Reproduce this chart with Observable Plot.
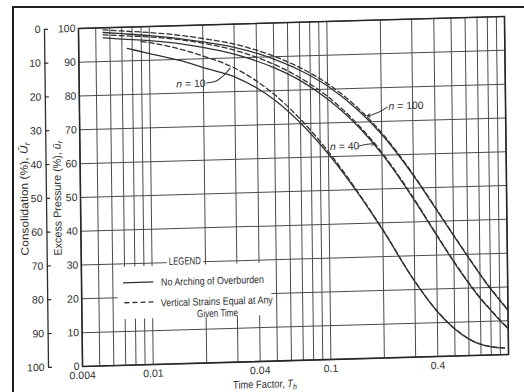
<!DOCTYPE html>
<html><head><meta charset="utf-8">
<script src="https://cdn.jsdelivr.net/npm/d3@7"></script>
<script src="https://cdn.jsdelivr.net/npm/@observablehq/plot@0.6"></script>
<style>
html,body{margin:0;padding:0;background:#fff;}
#wrap{position:relative;width:524px;height:392px;overflow:hidden;background:#fff;}
#border{position:absolute;left:12px;top:6px;width:530px;height:420px;border-top:2px solid #1e1e1e;border-left:2px solid #1e1e1e;}
#chart{position:absolute;left:0;top:0;}
</style></head><body>
<div id="wrap"><div id="border"></div><div id="chart"></div></div>
<script>
// ---- data (time factor T, excess pressure %) ----
const T = [0.0055, 0.007, 0.01, 0.015, 0.02, 0.03, 0.04, 0.05, 0.07, 0.1, 0.15, 0.2, 0.3, 0.4, 0.5, 0.6, 0.7, 0.8, 0.9, 1.0];
const n100Dashed = [99.4, 98.9, 98.2, 97.1, 96.0, 94.1, 92.1, 90.2, 86.6, 81.6, 73.8, 66.6, 54.0, 43.8, 35.8, 29.4, 24.1, 19.8, 16.3, 13.2];
const n100Solid  = [98.6, 98.1, 97.3, 96.1, 95.0, 93.1, 91.2, 89.3, 85.8, 80.9, 73.2, 66.2, 53.7, 43.6, 35.6, 29.2, 23.9, 19.6, 16.1, 13.0];
const n40Dashed  = [97.9, 97.5, 96.9, 95.8, 94.6, 92.3, 90.0, 87.8, 83.6, 77.8, 68.8, 60.8, 47.0, 36.2, 28.0, 21.8, 17.0, 13.4, 10.3, 7.8];
const n40Solid   = [97.0, 96.5, 95.8, 94.6, 93.4, 91.1, 88.9, 86.8, 82.8, 77.0, 68.3, 60.4, 46.7, 36.0, 27.8, 21.6, 16.8, 13.2, 10.1, 7.6];
const T10Dashed  = [0.009, 0.01, 0.015, 0.02, 0.03, 0.04, 0.05, 0.07, 0.1, 0.15, 0.2, 0.3, 0.4, 0.5, 0.6, 0.7, 0.8, 0.95];
const n10Dashed  = [95.6, 95.2, 93.0, 90.8, 87.0, 82.9, 78.9, 71.3, 61.5, 48.3, 38.0, 22.5, 13.4, 8.1, 5.0, 3.3, 2.5, 2.0];
const T10Solid   = [0.0075, 0.01, 0.015, 0.02, 0.03, 0.04, 0.05, 0.07, 0.1, 0.15, 0.2, 0.3, 0.4, 0.5, 0.6, 0.7, 0.8, 0.95];
const n10Solid   = [93.7, 92.0, 89.6, 87.4, 84.4, 80.9, 77.3, 70.2, 60.8, 48.0, 37.8, 22.4, 13.3, 8.0, 4.9, 3.2, 2.4, 1.9];

const yTicks = [0, 10, 20, 30, 40, 50, 60, 70, 80, 90, 100];
const xGrid = [0.004, 0.005, 0.006, 0.007, 0.008, 0.009, 0.01, 0.02, 0.03, 0.04, 0.05, 0.06, 0.07, 0.08, 0.09, 0.1, 0.2, 0.3, 0.4, 0.5, 0.6, 0.7, 0.8, 0.9, 1.0];
const xLabels = [0.004, 0.01, 0.04, 0.1, 0.4];

const xTitle = "Time Factor, T_h";
const yTitleOuter = "Consolidation (%), Ū_r";
const yTitleInner = "Excess Pressure (%), ū_r";
const legendTitle = "LEGEND";
const legendSolid = "No Arching of Overburden";
const legendDashed1 = "Vertical Strains Equal at Any";
const legendDashed2 = "Given Time";

// annotation anchors (data units)
const nLabels = [
  {t: 0.0206, p: 82.7, label: "n = 10", anchor: "end"},
  {t: 0.219, p: 74.4, label: "n = 100", anchor: "start"},
  {t: 0.1236, p: 62.9, label: "n = 40", anchor: "middle"}
];
const n10Leader = [{t: 0.0209, p: 82.8}, {t: 0.0238, p: 83.4}, {t: 0.0262, p: 85.0}, {t: 0.0284, p: 87.0}];
const arrows = [
  {t1: 0.216, p1: 74.2, t2: 0.166, p2: 71.7},
  {t1: 0.147, p1: 62.8, t2: 0.183, p2: 63.4}
];
const legendBox = [{t1: 0.0064, t2: 0.047, p1: 13.5, p2: 29}];
const legendSamples = [
  {t1: 0.0069, t2: 0.0102, p: 24.4, dashed: false},
  {t1: 0.0070, t2: 0.0102, p: 18.5, dashed: true}
];

const series = [
  {key: "n100d", dashed: true, t: T, p: n100Dashed},
  {key: "n100s", dashed: false, t: T, p: n100Solid},
  {key: "n40d", dashed: true, t: T, p: n40Dashed},
  {key: "n40s", dashed: false, t: T, p: n40Solid},
  {key: "n10d", dashed: true, t: T10Dashed, p: n10Dashed},
  {key: "n10s", dashed: false, t: T10Solid, p: n10Solid}
];
const rows = series.flatMap(s => s.t.map((t, i) => ({t, p: s.p[i], key: s.key, dashed: s.dashed})));

const FONT = '"Liberation Sans", Arial, Helvetica, sans-serif';
const INK = "#2e2e2e";
const GRID = "#4a4a4a";

// widths of the condensed type in the original figure
const fitWidths = new Map([
  [legendSolid, 103], [legendDashed1, 112], [legendDashed2, 41], [legendTitle, 32],
  [yTitleOuter, 113], [yTitleInner, 115], [xTitle, 64]
]);

const plot = Plot.plot({
  width: 524, height: 392,
  marginLeft: 80, marginRight: 18, marginTop: 22, marginBottom: 32,
  x: {type: "log", domain: [0.004, 1], label: null},
  y: {domain: [0, 100], label: null},
  style: {background: "transparent", fontFamily: FONT, fontSize: "11px", color: INK, overflow: "visible"},
  marks: [
    Plot.ruleY(yTicks, {stroke: GRID, strokeWidth: 1}),
    Plot.ruleX(xGrid, {stroke: GRID, strokeWidth: 1}),
    Plot.rect(legendBox, {x1: "t1", x2: "t2", y1: "p1", y2: "p2", fill: "white"}),
    Plot.frame({stroke: "#262626", strokeWidth: 1.6}),
    Plot.axisX({ticks: xLabels, tickSize: 0, tickPadding: 5, tickFormat: d => String(d), label: null, fill: INK, fontSize: 10.5}),
    Plot.axisY({ticks: yTicks, tickSize: 0, tickPadding: 3, label: null, fill: INK, fontSize: 10.5}),
    Plot.axisY({ticks: yTicks, tickSize: 0, tickPadding: 0, dx: -38, tickFormat: d => String(100 - d), label: null, fill: INK, fontSize: 10.5}),
    Plot.axisY({ticks: yTicks, tickSize: 4, dx: -30, tickFormat: () => "", label: null, stroke: INK, strokeWidth: 1.2}),
    Plot.ruleX([0.004], {dx: -34, y1: 0, y2: 100, stroke: INK, strokeWidth: 1.3}),
    Plot.text([yTitleOuter], {x: 0.004, y: 50, dx: -56, rotate: -90, text: d => d, fill: INK, fontSize: 11}),
    Plot.text([yTitleInner], {x: 0.004, y: 50, dx: -23, rotate: -90, text: d => d, fill: INK, fontSize: 11}),
    Plot.text([xTitle], {x: 0.0424, y: 0, dy: 23, text: d => d, fill: INK, fontSize: 11}),
    // legend
    Plot.text([legendTitle], {x: 0.0153, y: 30.3, text: d => d, fill: INK, fontSize: 10.5, stroke: "white", strokeWidth: 7}),
    Plot.ruleY(legendSamples.filter(d => !d.dashed), {y: "p", x1: "t1", x2: "t2", stroke: INK, strokeWidth: 1.3}),
    Plot.ruleY(legendSamples.filter(d => d.dashed), {y: "p", x1: "t1", x2: "t2", stroke: INK, strokeWidth: 1.3, strokeDasharray: "5,3"}),
    Plot.text([legendSolid], {x: 0.0112, y: 24.2, text: d => d, textAnchor: "start", fill: INK, fontSize: 10.5}),
    Plot.text([legendDashed1], {x: 0.0230, y: 18.1, text: d => d, fill: INK, fontSize: 10.5}),
    Plot.text([legendDashed2], {x: 0.0232, y: 14.6, text: d => d, fill: INK, fontSize: 10.5}),
    // curves
    Plot.line(rows.filter(d => !d.dashed), {x: "t", y: "p", z: "key", stroke: "#333", strokeWidth: 1.3, curve: "monotone-x"}),
    Plot.line(rows.filter(d => d.dashed), {x: "t", y: "p", z: "key", stroke: "#333", strokeWidth: 1.3, strokeDasharray: "5,3", curve: "monotone-x"}),
    // annotations
    Plot.line(n10Leader, {x: "t", y: "p", stroke: "#333", strokeWidth: 1, curve: "catmull-rom"}),
    Plot.arrow(arrows, {x1: "t1", y1: "p1", x2: "t2", y2: "p2", stroke: "#333", strokeWidth: 1, headLength: 5, bend: 12}),
    Plot.text(nLabels.filter(d => d.anchor === "end"), {x: "t", y: "p", text: "label", textAnchor: "end", fill: INK, fontSize: 10.5}),
    Plot.text(nLabels.filter(d => d.anchor === "start"), {x: "t", y: "p", text: "label", textAnchor: "start", fill: INK, fontSize: 10.5}),
    Plot.text(nLabels.filter(d => d.anchor === "middle"), {x: "t", y: "p", text: "label", fill: INK, fontSize: 10.5})
  ]
});

// condensed widths, italic variables and subscripts
d3.select(plot).selectAll("text").each(function () {
  if (this.querySelector("tspan")) return;
  const s = this.textContent;
  const el = d3.select(this);
  if (fitWidths.has(s)) el.attr("textLength", fitWidths.get(s)).attr("lengthAdjust", "spacingAndGlyphs");
  let m = s.match(/^(.*?)(\S)_(\w)$/);
  if (m) {
    el.text(m[1]);
    el.append("tspan").attr("font-style", "italic").text(m[2]);
    el.append("tspan").attr("font-style", "italic").attr("font-size", "0.75em").attr("dy", "0.3em").text(m[3]);
    return;
  }
  m = s.match(/^n( = \d+)$/);
  if (m) {
    el.text("");
    el.append("tspan").attr("font-style", "italic").text("n");
    el.append("tspan").text(m[1]);
  }
});

plot.style.transformOrigin = "293px 191px";
plot.style.transform = "matrix(1, -0.028, 0.012, 1, 0, 0)";
document.getElementById("chart").appendChild(plot);
</script>
</body></html>
